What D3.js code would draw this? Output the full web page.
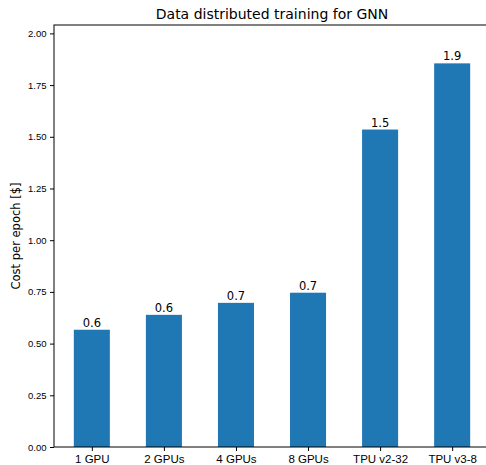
<!DOCTYPE html>
<html>
<head>
<meta charset="utf-8">
<script src="https://cdn.jsdelivr.net/npm/d3@7"></script>
<style>
  body { margin: 0; background: #fff; }
  svg { font-family: "DejaVu Sans", sans-serif; }
</style>
</head>
<body>
<div id="chart"></div>
<script>
// Chart data
const categories = ['1 GPU', '2 GPUs', '4 GPUs', '8 GPUs', 'TPU v2-32', 'TPU v3-8'];
const costs = [0.567, 0.639, 0.697, 0.746, 1.535, 1.855];
const yTicks = [0, 0.25, 0.5, 0.75, 1.0, 1.25, 1.5, 1.75, 2.0];

const W = 486, H = 465;
const margin = { top: 25, right: -4, bottom: 18, left: 54 };
const width = W - margin.left - margin.right;
const height = H - margin.top - margin.bottom;

const svg = d3.select('#chart').append('svg')
    .attr('width', W)
    .attr('height', H);

const g = svg.append('g')
    .attr('transform', `translate(${margin.left},${margin.top})`);

// x: matplotlib-style linear positions with 5% margins
const xScale = d3.scaleLinear()
    .domain([-0.525, categories.length - 1 + 0.525])
    .range([0, width]);
const barW = xScale(0.5) - xScale(0);

const yScale = d3.scaleLinear()
    .domain([0, d3.max(costs) * 1.1])
    .range([height, 0]);

// Bars
g.selectAll('.bar')
    .data(costs)
    .enter()
    .append('rect')
    .attr('class', 'bar')
    .attr('x', (d, i) => xScale(i) - barW / 2)
    .attr('y', d => yScale(d))
    .attr('width', barW)
    .attr('height', d => height - yScale(d))
    .attr('fill', '#1f77b4');

// Bar labels
g.selectAll('.bar-label')
    .data(costs)
    .enter()
    .append('text')
    .attr('class', 'bar-label')
    .attr('x', (d, i) => xScale(i))
    .attr('y', d => yScale(d) - 3)
    .attr('text-anchor', 'middle')
    .attr('font-size', '11.5px')
    .attr('fill', '#000')
    .text(d => d3.format('.1f')(d));

// Y axis
const yAxis = d3.axisLeft(yScale)
    .tickValues(yTicks)
    .tickSize(4)
    .tickPadding(3.5)
    .tickFormat(d3.format('.2f'));

g.append('g')
    .attr('class', 'y-axis')
    .call(yAxis)
    .call(a => a.select('.domain').remove())
    .selectAll('text')
    .attr('font-size', '9.5px')
    .attr('fill', '#000');

// X axis
const xAxis = d3.axisBottom(xScale)
    .tickValues(d3.range(categories.length))
    .tickSize(4)
    .tickPadding(3.5)
    .tickFormat(i => categories[i]);

g.append('g')
    .attr('class', 'x-axis')
    .attr('transform', `translate(0,${height})`)
    .call(xAxis)
    .call(a => a.select('.domain').remove())
    .selectAll('text')
    .attr('font-size', '11.5px')
    .attr('fill', '#000');

// Spines
g.append('rect')
    .attr('x', 0)
    .attr('y', 0)
    .attr('width', width)
    .attr('height', height)
    .attr('fill', 'none')
    .attr('stroke', '#000')
    .attr('stroke-width', 1);

// Axis label
g.append('text')
    .attr('transform', 'rotate(-90)')
    .attr('x', -height / 2)
    .attr('y', -margin.left + 20)
    .attr('text-anchor', 'middle')
    .attr('font-size', '11.5px')
    .attr('fill', '#000')
    .text('Cost per epoch [$]');

// Title
g.append('text')
    .attr('x', width / 2)
    .attr('y', -6)
    .attr('text-anchor', 'middle')
    .attr('font-size', '14px')
    .attr('fill', '#000')
    .text('Data distributed training for GNN');
</script>
</body>
</html>
